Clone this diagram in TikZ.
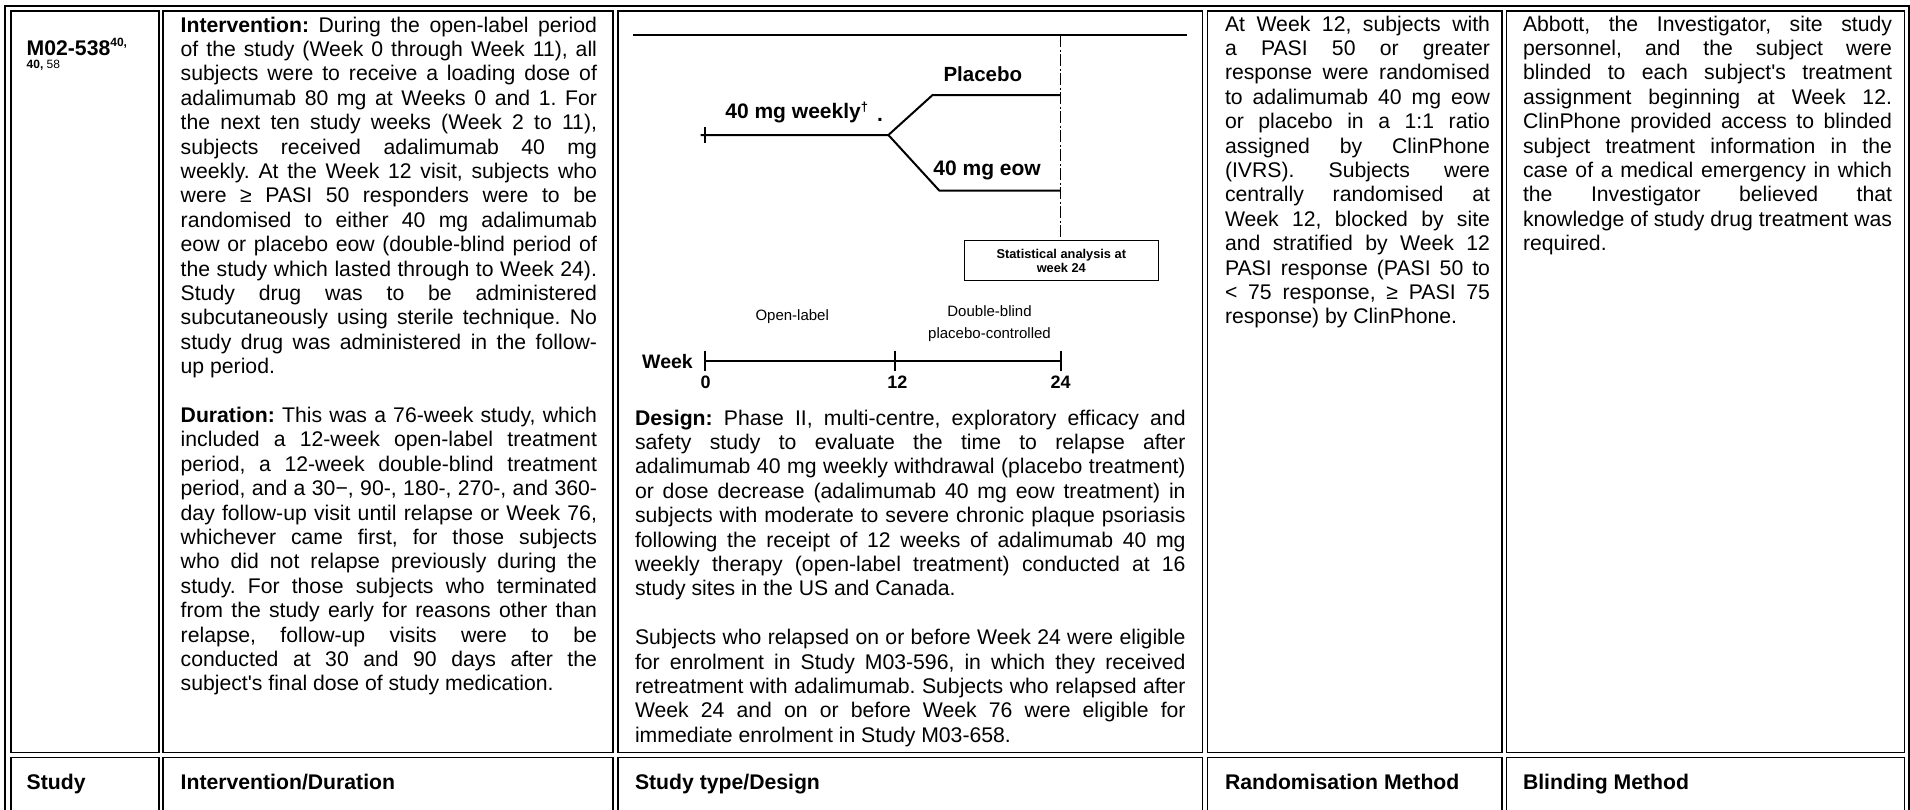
\documentclass[tikz,border=0pt]{standalone}
\usepackage{fontspec}
\setmainfont{Liberation Sans}
\hbadness=10000
\hfuzz=6pt
% one justified line, one natural (last) line, one empty line
\newcommand\jline[1]{\hbox to\hsize{#1}}
\newcommand\eline[1]{\hbox{#1}}
\newcommand\gapline{\hbox{}}
\newcommand\bodyfont{\fontsize{21.2}{24.4}\selectfont\frenchspacing\lineskiplimit=-100pt\lineskip=0pt}
\newcommand\textblock[2]{\vtop{\hsize=#1\bodyfont #2}}
\newcommand\headfont{\fontsize{21.2}{24.4}\selectfont\bfseries}
\newcommand\dfont[1]{\fontsize{#1}{#1}\selectfont}
\tikzset{
  cellbox/.style={draw, line width=1.8pt},
  outerframe/.style={draw, line width=2.4pt},
  txt/.style={anchor=base west, inner sep=0pt, outer sep=0pt},
  ctxt/.style={anchor=base, inner sep=0pt, outer sep=0pt},
  armline/.style={line width=2pt},
  thinline/.style={line width=1.3pt},
  guideline/.style={line width=1.2pt, dash pattern=on 12pt off 2.5pt on 2pt off 2.5pt},
}
\begin{document}
\begin{tikzpicture}[x=1pt,y=-1pt]
\useasboundingbox (0,0) rectangle (1910,809);
\fill[white] (0,0) rectangle (1910,809);

% ---- table frame and cells ----
\begin{scope}
\clip (0,0) rectangle (1910,809);
\draw[outerframe] (5,6) rectangle (1909.5,840);
\draw[cellbox] (11,11) rectangle (158.7,752.5);
\draw[cellbox] (163.3,11) rectangle (613.3,752.5);
\draw[cellbox] (618,11) rectangle (1202.5,752.5);
\draw[cellbox] (1207.5,11) rectangle (1502,752.5);
\draw[cellbox] (1506.5,11) rectangle (1904.5,752.5);
\draw[cellbox] (11,757.5) rectangle (158.7,840);
\draw[cellbox] (163.3,757.5) rectangle (613.3,840);
\draw[cellbox] (618,757.5) rectangle (1202.5,840);
\draw[cellbox] (1207.5,757.5) rectangle (1502,840);
\draw[cellbox] (1506.5,757.5) rectangle (1904.5,840);
\end{scope}

% ---- study column ----
\node[txt] (study) at (26.7,55) {\headfont M02-538\raisebox{8.3pt}{\dfont{12}40,}};
\node[txt] (studyrefs) at (26.7,68) {\dfont{12}\textbf{40,} 58};

% ---- intervention / duration ----
\node[txt] (interv) at (180.7,32) {\textblock{416.3pt}{%
\jline{\textbf{Intervention:} During the open-label period}
\jline{of the study (Week 0 through Week 11), all}
\jline{subjects were to receive a loading dose of}
\jline{adalimumab 80 mg at Weeks 0 and 1. For}
\jline{the next ten study weeks (Week 2 to 11),}
\jline{subjects received adalimumab 40 mg}
\jline{weekly. At the Week 12 visit, subjects who}
\jline{were ≥ PASI 50 responders were to be}
\jline{randomised to either 40 mg adalimumab}
\jline{eow or placebo eow (double-blind period of}
\jline{the study which lasted through to Week 24).}
\jline{Study drug was to be administered}
\jline{subcutaneously using sterile technique. No}
\jline{study drug was administered in the follow-}
\eline{up period.}
\gapline
\jline{\textbf{Duration:} This was a 76-week study, which}
\jline{included a 12-week open-label treatment}
\jline{period, a 12-week double-blind treatment}
\jline{period, and a 30−, 90-, 180-, 270-, and 360-}
\jline{day follow-up visit until relapse or Week 76,}
\jline{whichever came first, for those subjects}
\jline{who did not relapse previously during the}
\jline{study. For those subjects who terminated}
\jline{from the study early for reasons other than}
\jline{relapse, follow-up visits were to be}
\jline{conducted at 30 and 90 days after the}
\eline{subject\textquotesingle s final dose of study medication.}}};

% ---- study design scheme ----
\coordinate (r0) at (633.4,35);
\coordinate (r1) at (1187.2,35);
\draw[thinline] (r0) -- (r1);

\coordinate (wkL) at (700.5,135);
\coordinate (wk0) at (704.5,135);
\coordinate (fork) at (888.4,135);
\coordinate (pl0) at (932.6,95);
\coordinate (pl1) at (1060.7,95);
\coordinate (ew0) at (939.4,190.7);
\coordinate (ew1) at (1060.7,190.7);
\draw[armline] (wkL) -- (fork) -- (pl0) -- (pl1);
\draw[armline] (fork) -- (ew0) -- (ew1);
\draw[armline] ([yshift=8pt]wk0) -- ([yshift=-8pt]wk0);

\node[txt] (placebo) at (943.5,81.7) {\dfont{20.5}\bfseries Placebo};
\node[txt] (weekly) at (725.4,118.3) {\dfont{21}\bfseries 40 mg weekly\raisebox{7pt}{\dfont{13}†}\hspace{9pt}\raisebox{-3.5pt}{.}};
\node[txt] (eow) at (933.4,175) {\dfont{21}\bfseries 40 mg eow};

\node[draw, thinline, minimum width=194pt, minimum height=40pt, inner sep=0pt, align=center,
  font=\fontsize{12.8}{14.5}\selectfont\bfseries]
  (stat) at (1061.3,260.7) {Statistical analysis at\\week 24};
\coordinate (gtop) at (1060.7,35);
\draw[guideline] (gtop) -- (gtop |- stat.north);

\node[txt] (openlbl) at (755.5,320) {\dfont{15}Open-label};
\node[ctxt] (dblind) at (989.5,316) {\dfont{15}Double-blind};
\node[ctxt] (pboctl) at (989.5,338) {\dfont{15}placebo-controlled};

\node[txt] (weeklbl) at (642.2,368) {\dfont{19.5}\bfseries Week};
\coordinate (a0) at (705.3,360.7);
\coordinate (a12) at (895.3,360.7);
\coordinate (a24) at (1060.7,360.7);
\draw[armline] (a0) -- (a24);
\foreach \t in {a0,a12,a24}
  \draw[armline] ([yshift=10pt]\t) -- ([yshift=-10pt]\t);
\node[ctxt] (t0) at (705.7,388) {\dfont{18}\bfseries 0};
\node[ctxt] (t12) at (897.3,388) {\dfont{18}\bfseries 12};
\node[ctxt] (t24) at (1060.5,388) {\dfont{18}\bfseries 24};

% ---- design text ----
\node[txt] (design) at (635,425) {\textblock{550.6pt}{%
\jline{\textbf{Design:} Phase II, multi-centre, exploratory efficacy and}
\jline{safety study to evaluate the time to relapse after}
\jline{adalimumab 40 mg weekly withdrawal (placebo treatment)}
\jline{or dose decrease (adalimumab 40 mg eow treatment) in}
\jline{subjects with moderate to severe chronic plaque psoriasis}
\jline{following the receipt of 12 weeks of adalimumab 40 mg}
\jline{weekly therapy (open-label treatment) conducted at 16}
\eline{study sites in the US and Canada.}
\gapline
\jline{Subjects who relapsed on or before Week 24 were eligible}
\jline{for enrolment in Study M03-596, in which they received}
\jline{retreatment with adalimumab. Subjects who relapsed after}
\jline{Week 24 and on or before Week 76 were eligible for}
\eline{immediate enrolment in Study M03-658.}}};

% ---- randomisation ----
\node[txt] (rand) at (1225,31) {\textblock{265pt}{%
\jline{At Week 12, subjects with}
\jline{a PASI 50 or greater}
\jline{response were randomised}
\jline{to adalimumab 40 mg eow}
\jline{or placebo in a 1:1 ratio}
\jline{assigned by ClinPhone}
\jline{(IVRS). Subjects were}
\jline{centrally randomised at}
\jline{Week 12, blocked by site}
\jline{and stratified by Week 12}
\jline{PASI response (PASI 50 to}
\jline{< 75 response, ≥ PASI 75}
\eline{response) by ClinPhone.}}};

% ---- blinding ----
\node[txt] (blind) at (1523,31) {\textblock{369pt}{%
\jline{Abbott, the Investigator, site study}
\jline{personnel, and the subject were}
\jline{blinded to each subject\textquotesingle s treatment}
\jline{assignment beginning at Week 12.}
\jline{ClinPhone provided access to blinded}
\jline{subject treatment information in the}
\jline{case of a medical emergency in which}
\jline{the Investigator believed that}
\jline{knowledge of study drug treatment was}
\eline{required.}}};

% ---- header row ----
\node[txt] (hstudy) at (26.7,789.5) {\headfont Study};
\node[txt] (hinterv) at (180.7,789.5) {\headfont Intervention/Duration};
\node[txt] (hdesign) at (635,789.5) {\headfont Study type/Design};
\node[txt] (hrand) at (1225,789.5) {\headfont Randomisation Method};
\node[txt] (hblind) at (1523,789.5) {\headfont Blinding Method};
\end{tikzpicture}
\end{document}
